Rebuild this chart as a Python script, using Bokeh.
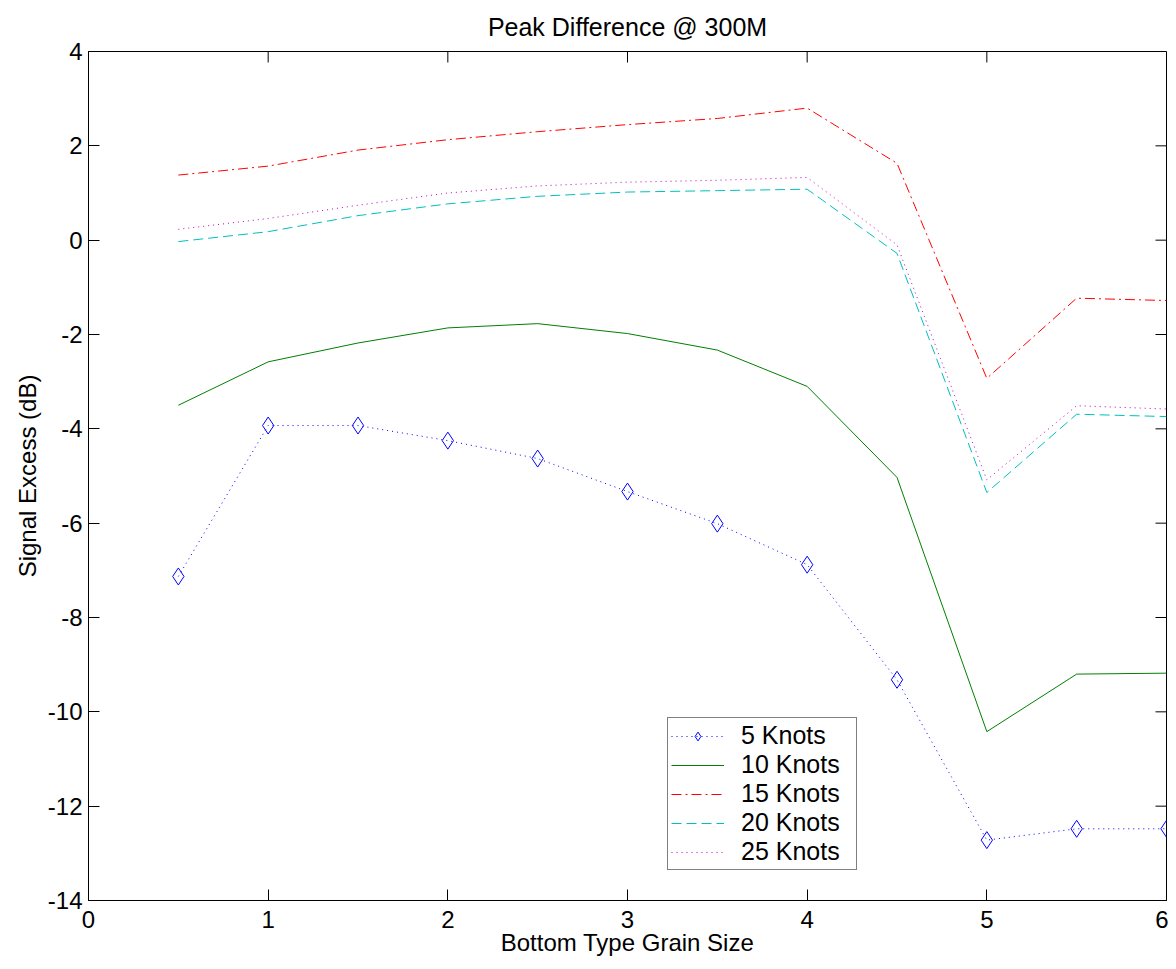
from bokeh.plotting import figure
from bokeh.models import Range1d, FixedTicker, Legend, LegendItem
from bokeh.embed import file_html
from bokeh.resources import INLINE

# ---- data ----
grain_size = [0.5, 1.0, 1.5, 2.0, 2.5, 3.0, 3.5, 4.0, 4.5, 5.0, 5.5, 6.0]
knots_5 = [-7.13, -3.93, -3.93, -4.25, -4.63, -5.33, -6.01, -6.88, -9.32, -12.72, -12.48, -12.48]
knots_10 = [-3.50, -2.58, -2.18, -1.86, -1.77, -1.98, -2.33, -3.10, -5.03, -10.42, -9.20, -9.18]
knots_15 = [1.38, 1.57, 1.91, 2.13, 2.30, 2.45, 2.58, 2.80, 1.63, -2.93, -1.23, -1.28]
knots_20 = [-0.03, 0.18, 0.52, 0.77, 0.93, 1.02, 1.05, 1.08, -0.28, -5.35, -3.69, -3.74]
knots_25 = [0.23, 0.46, 0.74, 1.00, 1.15, 1.23, 1.27, 1.33, -0.10, -5.08, -3.51, -3.58]
series_names = ["5 Knots", "10 Knots", "15 Knots", "20 Knots", "25 Knots"]
x_ticks = [0, 1, 2, 3, 4, 5, 6]
y_ticks = [-14, -12, -10, -8, -6, -4, -2, 0, 2, 4]
x_min, x_max = 0, 6
y_min, y_max = -14, 4

FONT = "Liberation Sans"
FS = "24px"
FRAME_W, FRAME_H = 1078, 849
TICK_PX = 11

p = figure(
    frame_width=FRAME_W, frame_height=FRAME_H,
    x_range=Range1d(x_min, x_max), y_range=Range1d(y_min, y_max),
    output_backend="svg", toolbar_location=None,
    min_border_left=88, min_border_right=2, min_border_top=0, min_border_bottom=0,
    title="Peak Difference @ 300M",
)
p.title.align = "center"
p.title.text_font = FONT
p.title.text_font_size = "25px"
p.title.text_font_style = "normal"
p.title.text_color = "black"
p.title.standoff = 21

p.xgrid.visible = False
p.ygrid.visible = False
p.outline_line_color = "black"
p.outline_line_alpha = 1.0
p.background_fill_color = "white"
p.border_fill_color = "white"

for ax, ticks in ((p.xaxis[0], x_ticks), (p.yaxis[0], y_ticks)):
    ax.ticker = FixedTicker(ticks=ticks)
    ax.major_label_overrides = {t: str(t) for t in ticks}
    ax.major_tick_in = TICK_PX
    ax.major_tick_out = 0
    ax.minor_tick_line_color = None
    ax.axis_line_color = "black"
    ax.major_tick_line_color = "black"
    ax.major_label_text_font = FONT
    ax.major_label_text_font_size = FS
    ax.major_label_text_color = "black"
    ax.axis_label_text_font = FONT
    ax.axis_label_text_font_size = FS
    ax.axis_label_text_font_style = "normal"
    ax.axis_label_text_color = "black"

p.xaxis[0].major_label_text_line_height = 1.0
p.xaxis[0].axis_label_text_line_height = 1.0
p.xaxis[0].major_label_standoff = 10
p.xaxis[0].axis_label_standoff = -2
p.yaxis[0].major_label_standoff = 6
p.yaxis[0].axis_label_standoff = 4
p.xaxis[0].axis_label = "Bottom Type Grain Size"
p.yaxis[0].axis_label = "Signal Excess (dB)"

# mirrored inward ticks on the top and right edges of the box
dy_tick = TICK_PX / FRAME_H * (y_max - y_min)
dx_tick = TICK_PX / FRAME_W * (x_max - x_min)
p.segment(x0=x_ticks, y0=[y_max] * len(x_ticks), x1=x_ticks, y1=[y_max - dy_tick] * len(x_ticks),
          line_color="black", line_width=1)
p.segment(x0=[x_max] * len(y_ticks), y0=y_ticks, x1=[x_max - dx_tick] * len(y_ticks), y1=y_ticks,
          line_color="black", line_width=1)

# ---- series ----
r5 = p.line(grain_size, knots_5, line_color="#0000ff", line_width=1, line_dash="1 4")
r5m = p.scatter(grain_size, knots_5, marker="diamond", size=17, fill_color=None,
                line_color="#0000ff", line_width=1)
r10 = p.line(grain_size, knots_10, line_color="#008000", line_width=1)
r15 = p.line(grain_size, knots_15, line_color="#ff0000", line_width=1, line_dash="10 4 2 4")
r20 = p.line(grain_size, knots_20, line_color="#00bfbf", line_width=1, line_dash="10 5")
r25 = p.line(grain_size, knots_25, line_color="#bf00bf", line_width=1, line_dash="1 4")

legend = Legend(
    items=[
        LegendItem(label=series_names[0], renderers=[r5, r5m]),
        LegendItem(label=series_names[1], renderers=[r10]),
        LegendItem(label=series_names[2], renderers=[r15]),
        LegendItem(label=series_names[3], renderers=[r20]),
        LegendItem(label=series_names[4], renderers=[r25]),
    ],
    location=(579, 30),
    padding=3, spacing=0, margin=0,
    glyph_width=53, glyph_height=22, label_height=22, label_width=112, label_standoff=17,
    label_text_font=FONT, label_text_font_size="25px", label_text_color="black",
    border_line_color="black", border_line_width=1,
    background_fill_color="white", background_fill_alpha=1.0,
)
p.add_layout(legend, "center")

open("out.html", "w").write(file_html(p, INLINE))
